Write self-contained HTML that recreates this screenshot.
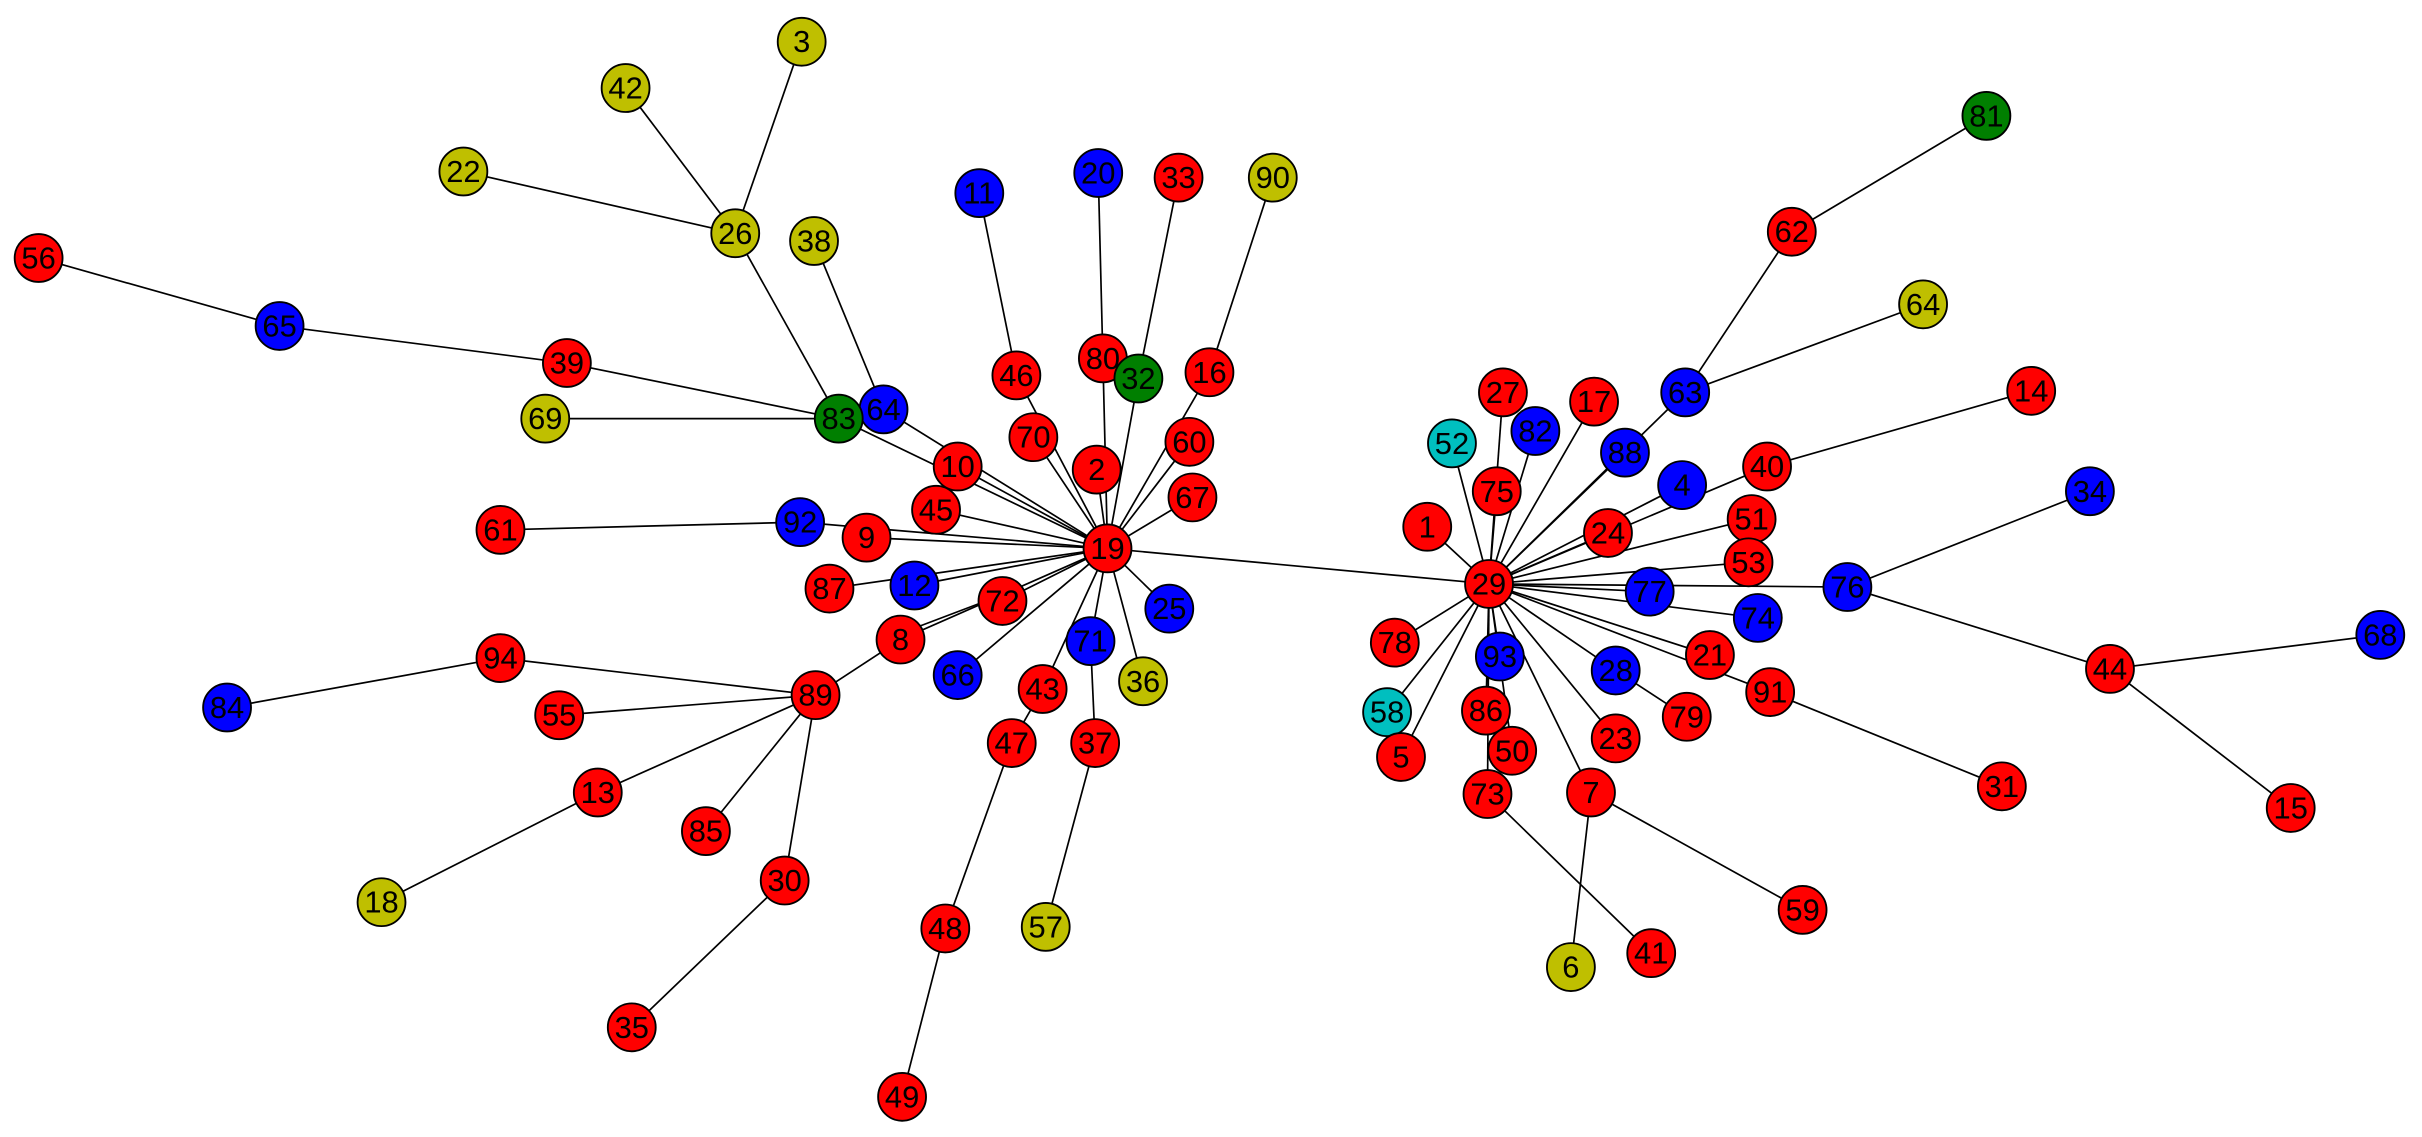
<!DOCTYPE html>
<html><head><meta charset="utf-8"><style>
html,body{margin:0;padding:0;background:#fff;}
svg{display:block;}
text{font-family:"Liberation Sans","DejaVu Sans",sans-serif;font-size:20px;text-anchor:middle;dominant-baseline:central;fill:#000;}
circle{stroke:#000;stroke-width:1.2;}
.r{fill:#f00}.b{fill:#00f}.y{fill:#bfbf00}.g{fill:#007f00}.c{fill:#00bfbf}
line{stroke:#000;stroke-width:1.1;}
</style></head><body>
<svg width="2422" height="1137" viewBox="0 0 1568 736" preserveAspectRatio="none">
<g>
<line x1="519" y1="27" x2="476" y2="151"/>
<line x1="405" y1="57" x2="476" y2="151"/>
<line x1="300" y1="111" x2="476" y2="151"/>
<line x1="476" y1="151" x2="543" y2="271"/>
<line x1="527" y1="156" x2="572" y2="265"/>
<line x1="25" y1="167" x2="181" y2="211"/>
<line x1="181" y1="211" x2="367" y2="235"/>
<line x1="367" y1="235" x2="543" y2="271"/>
<line x1="353" y1="271" x2="543" y2="271"/>
<line x1="543" y1="271" x2="717" y2="355"/>
<line x1="572" y1="265" x2="717" y2="355"/>
<line x1="634" y1="125" x2="658" y2="243"/>
<line x1="658" y1="243" x2="717" y2="355"/>
<line x1="711" y1="112" x2="714" y2="232"/>
<line x1="714" y1="232" x2="717" y2="355"/>
<line x1="763" y1="115" x2="737" y2="245"/>
<line x1="737" y1="245" x2="717" y2="355"/>
<line x1="824" y1="115" x2="783" y2="241"/>
<line x1="783" y1="241" x2="717" y2="355"/>
<line x1="669" y1="283" x2="717" y2="355"/>
<line x1="710" y1="304" x2="717" y2="355"/>
<line x1="770" y1="286" x2="717" y2="355"/>
<line x1="620" y1="302" x2="717" y2="355"/>
<line x1="606" y1="330" x2="717" y2="355"/>
<line x1="772" y1="322" x2="717" y2="355"/>
<line x1="324" y1="343" x2="518" y2="338"/>
<line x1="518" y1="338" x2="717" y2="355"/>
<line x1="561" y1="348" x2="717" y2="355"/>
<line x1="537" y1="381" x2="717" y2="355"/>
<line x1="592" y1="379" x2="717" y2="355"/>
<line x1="649" y1="389" x2="717" y2="355"/>
<line x1="583" y1="414" x2="717" y2="355"/>
<line x1="583" y1="410" x2="649" y2="385"/>
<line x1="757" y1="394" x2="717" y2="355"/>
<line x1="706" y1="415" x2="717" y2="355"/>
<line x1="620" y1="437" x2="717" y2="355"/>
<line x1="740" y1="441" x2="717" y2="355"/>
<line x1="675" y1="446" x2="717" y2="355"/>
<line x1="655" y1="481" x2="675" y2="446"/>
<line x1="709" y1="481" x2="706" y2="415"/>
<line x1="612" y1="601" x2="655" y2="481"/>
<line x1="584" y1="710" x2="612" y2="601"/>
<line x1="677" y1="600" x2="709" y2="481"/>
<line x1="324" y1="426" x2="528" y2="450"/>
<line x1="147" y1="458" x2="324" y2="426"/>
<line x1="362" y1="463" x2="528" y2="450"/>
<line x1="387" y1="513" x2="528" y2="450"/>
<line x1="247" y1="584" x2="387" y2="513"/>
<line x1="457" y1="538" x2="528" y2="450"/>
<line x1="508" y1="570" x2="528" y2="450"/>
<line x1="409" y1="665" x2="508" y2="570"/>
<line x1="528" y1="450" x2="583" y2="414"/>
<line x1="717" y1="355" x2="964" y2="378"/>
<line x1="924" y1="341" x2="964" y2="378"/>
<line x1="940" y1="287" x2="964" y2="378"/>
<line x1="969" y1="318" x2="964" y2="378"/>
<line x1="973" y1="254" x2="964" y2="378"/>
<line x1="994" y1="279" x2="964" y2="378"/>
<line x1="1032" y1="260" x2="964" y2="378"/>
<line x1="1091" y1="254" x2="964" y2="378"/>
<line x1="1052" y1="293" x2="964" y2="378"/>
<line x1="1089" y1="314" x2="964" y2="378"/>
<line x1="1041" y1="345" x2="964" y2="378"/>
<line x1="1144" y1="302" x2="964" y2="378"/>
<line x1="1134" y1="336" x2="964" y2="378"/>
<line x1="1132" y1="364" x2="964" y2="378"/>
<line x1="1196" y1="380" x2="964" y2="378"/>
<line x1="1138" y1="400" x2="964" y2="378"/>
<line x1="1068" y1="383" x2="964" y2="378"/>
<line x1="903" y1="416" x2="964" y2="378"/>
<line x1="971" y1="425" x2="964" y2="378"/>
<line x1="1046" y1="434" x2="964" y2="378"/>
<line x1="1107" y1="424" x2="964" y2="378"/>
<line x1="1146" y1="448" x2="964" y2="378"/>
<line x1="898" y1="461" x2="964" y2="378"/>
<line x1="907" y1="490" x2="964" y2="378"/>
<line x1="962" y1="460" x2="964" y2="378"/>
<line x1="979" y1="486" x2="964" y2="378"/>
<line x1="963" y1="514" x2="964" y2="378"/>
<line x1="1046" y1="478" x2="964" y2="378"/>
<line x1="1030" y1="513" x2="964" y2="378"/>
<line x1="1046" y1="434" x2="1092" y2="464"/>
<line x1="1286" y1="75" x2="1160" y2="150"/>
<line x1="1160" y1="150" x2="1091" y2="254"/>
<line x1="1245" y1="197" x2="1091" y2="254"/>
<line x1="1315" y1="253" x2="1144" y2="302"/>
<line x1="1353" y1="318" x2="1196" y2="380"/>
<line x1="1196" y1="380" x2="1366" y2="433"/>
<line x1="1366" y1="433" x2="1541" y2="411"/>
<line x1="1366" y1="433" x2="1483" y2="523"/>
<line x1="1146" y1="448" x2="1296" y2="509"/>
<line x1="1030" y1="513" x2="1167" y2="589"/>
<line x1="1030" y1="513" x2="1017" y2="626"/>
<line x1="963" y1="514" x2="1069" y2="617"/>
</g>
<g>
<circle class="y" cx="519" cy="27" r="15.5"/><text x="519" y="27">3</text>
<circle class="y" cx="405" cy="57" r="15.5"/><text x="405" y="57">42</text>
<circle class="y" cx="300" cy="111" r="15.5"/><text x="300" y="111">22</text>
<circle class="y" cx="476" cy="151" r="15.5"/><text x="476" y="151">26</text>
<circle class="y" cx="527" cy="156" r="15.5"/><text x="527" y="156">38</text>
<circle class="r" cx="25" cy="167" r="15.5"/><text x="25" y="167">56</text>
<circle class="b" cx="181" cy="211" r="15.5"/><text x="181" y="211">65</text>
<circle class="r" cx="367" cy="235" r="15.5"/><text x="367" y="235">39</text>
<circle class="y" cx="353" cy="271" r="15.5"/><text x="353" y="271">69</text>
<circle class="b" cx="572" cy="265" r="15.5"/><text x="572" y="265">64</text>
<circle class="g" cx="543" cy="271" r="15.5"/><text x="543" y="271">83</text>
<circle class="b" cx="634" cy="125" r="15.5"/><text x="634" y="125">11</text>
<circle class="b" cx="711" cy="112" r="15.5"/><text x="711" y="112">20</text>
<circle class="r" cx="763" cy="115" r="15.5"/><text x="763" y="115">33</text>
<circle class="y" cx="824" cy="115" r="15.5"/><text x="824" y="115">90</text>
<circle class="r" cx="658" cy="243" r="15.5"/><text x="658" y="243">46</text>
<circle class="r" cx="714" cy="232" r="15.5"/><text x="714" y="232">80</text>
<circle class="g" cx="737" cy="245" r="15.5"/><text x="737" y="245">32</text>
<circle class="r" cx="783" cy="241" r="15.5"/><text x="783" y="241">16</text>
<circle class="r" cx="669" cy="283" r="15.5"/><text x="669" y="283">70</text>
<circle class="r" cx="770" cy="286" r="15.5"/><text x="770" y="286">60</text>
<circle class="r" cx="710" cy="304" r="15.5"/><text x="710" y="304">2</text>
<circle class="r" cx="620" cy="302" r="15.5"/><text x="620" y="302">10</text>
<circle class="r" cx="606" cy="330" r="15.5"/><text x="606" y="330">45</text>
<circle class="r" cx="772" cy="322" r="15.5"/><text x="772" y="322">67</text>
<circle class="r" cx="324" cy="343" r="15.5"/><text x="324" y="343">61</text>
<circle class="b" cx="518" cy="338" r="15.5"/><text x="518" y="338">92</text>
<circle class="r" cx="561" cy="348" r="15.5"/><text x="561" y="348">9</text>
<circle class="r" cx="717" cy="355" r="15.5"/><text x="717" y="355">19</text>
<circle class="r" cx="537" cy="381" r="15.5"/><text x="537" y="381">87</text>
<circle class="b" cx="592" cy="379" r="15.5"/><text x="592" y="379">12</text>
<circle class="r" cx="649" cy="389" r="15.5"/><text x="649" y="389">72</text>
<circle class="b" cx="757" cy="394" r="15.5"/><text x="757" y="394">25</text>
<circle class="r" cx="583" cy="414" r="15.5"/><text x="583" y="414">8</text>
<circle class="b" cx="706" cy="415" r="15.5"/><text x="706" y="415">71</text>
<circle class="b" cx="620" cy="437" r="15.5"/><text x="620" y="437">66</text>
<circle class="y" cx="740" cy="441" r="15.5"/><text x="740" y="441">36</text>
<circle class="r" cx="675" cy="446" r="15.5"/><text x="675" y="446">43</text>
<circle class="r" cx="655" cy="481" r="15.5"/><text x="655" y="481">47</text>
<circle class="r" cx="709" cy="481" r="15.5"/><text x="709" y="481">37</text>
<circle class="r" cx="324" cy="426" r="15.5"/><text x="324" y="426">94</text>
<circle class="b" cx="147" cy="458" r="15.5"/><text x="147" y="458">84</text>
<circle class="r" cx="362" cy="463" r="15.5"/><text x="362" y="463">55</text>
<circle class="r" cx="528" cy="450" r="15.5"/><text x="528" y="450">89</text>
<circle class="r" cx="387" cy="513" r="15.5"/><text x="387" y="513">13</text>
<circle class="r" cx="457" cy="538" r="15.5"/><text x="457" y="538">85</text>
<circle class="r" cx="508" cy="570" r="15.5"/><text x="508" y="570">30</text>
<circle class="y" cx="247" cy="584" r="15.5"/><text x="247" y="584">18</text>
<circle class="r" cx="409" cy="665" r="15.5"/><text x="409" y="665">35</text>
<circle class="r" cx="612" cy="601" r="15.5"/><text x="612" y="601">48</text>
<circle class="y" cx="677" cy="600" r="15.5"/><text x="677" y="600">57</text>
<circle class="r" cx="584" cy="710" r="15.5"/><text x="584" y="710">49</text>
<circle class="g" cx="1286" cy="75" r="15.5"/><text x="1286" y="75">81</text>
<circle class="r" cx="1160" cy="150" r="15.5"/><text x="1160" y="150">62</text>
<circle class="y" cx="1245" cy="197" r="15.5"/><text x="1245" y="197">64</text>
<circle class="r" cx="973" cy="254" r="15.5"/><text x="973" y="254">27</text>
<circle class="r" cx="1032" cy="260" r="15.5"/><text x="1032" y="260">17</text>
<circle class="b" cx="1091" cy="254" r="15.5"/><text x="1091" y="254">63</text>
<circle class="r" cx="1315" cy="253" r="15.5"/><text x="1315" y="253">14</text>
<circle class="c" cx="940" cy="287" r="15.5"/><text x="940" y="287">52</text>
<circle class="b" cx="994" cy="279" r="15.5"/><text x="994" y="279">82</text>
<circle class="b" cx="1052" cy="293" r="15.5"/><text x="1052" y="293">88</text>
<circle class="b" cx="1089" cy="314" r="15.5"/><text x="1089" y="314">4</text>
<circle class="r" cx="1144" cy="302" r="15.5"/><text x="1144" y="302">40</text>
<circle class="r" cx="969" cy="318" r="15.5"/><text x="969" y="318">75</text>
<circle class="r" cx="924" cy="341" r="15.5"/><text x="924" y="341">1</text>
<circle class="r" cx="1041" cy="345" r="15.5"/><text x="1041" y="345">24</text>
<circle class="r" cx="1134" cy="336" r="15.5"/><text x="1134" y="336">51</text>
<circle class="r" cx="1132" cy="364" r="15.5"/><text x="1132" y="364">53</text>
<circle class="b" cx="1353" cy="318" r="15.5"/><text x="1353" y="318">34</text>
<circle class="r" cx="964" cy="378" r="15.5"/><text x="964" y="378">29</text>
<circle class="b" cx="1068" cy="383" r="15.5"/><text x="1068" y="383">77</text>
<circle class="b" cx="1196" cy="380" r="15.5"/><text x="1196" y="380">76</text>
<circle class="b" cx="1138" cy="400" r="15.5"/><text x="1138" y="400">74</text>
<circle class="r" cx="903" cy="416" r="15.5"/><text x="903" y="416">78</text>
<circle class="b" cx="971" cy="425" r="15.5"/><text x="971" y="425">93</text>
<circle class="b" cx="1046" cy="434" r="15.5"/><text x="1046" y="434">28</text>
<circle class="r" cx="1107" cy="424" r="15.5"/><text x="1107" y="424">21</text>
<circle class="r" cx="1146" cy="448" r="15.5"/><text x="1146" y="448">91</text>
<circle class="b" cx="1541" cy="411" r="15.5"/><text x="1541" y="411">68</text>
<circle class="r" cx="1366" cy="433" r="15.5"/><text x="1366" y="433">44</text>
<circle class="c" cx="898" cy="461" r="15.5"/><text x="898" y="461">58</text>
<circle class="r" cx="962" cy="460" r="15.5"/><text x="962" y="460">86</text>
<circle class="r" cx="907" cy="490" r="15.5"/><text x="907" y="490">5</text>
<circle class="r" cx="979" cy="486" r="15.5"/><text x="979" y="486">50</text>
<circle class="r" cx="1046" cy="478" r="15.5"/><text x="1046" y="478">23</text>
<circle class="r" cx="1092" cy="464" r="15.5"/><text x="1092" y="464">79</text>
<circle class="r" cx="963" cy="514" r="15.5"/><text x="963" y="514">73</text>
<circle class="r" cx="1030" cy="513" r="15.5"/><text x="1030" y="513">7</text>
<circle class="r" cx="1296" cy="509" r="15.5"/><text x="1296" y="509">31</text>
<circle class="r" cx="1483" cy="523" r="15.5"/><text x="1483" y="523">15</text>
<circle class="r" cx="1167" cy="589" r="15.5"/><text x="1167" y="589">59</text>
<circle class="y" cx="1017" cy="626" r="15.5"/><text x="1017" y="626">6</text>
<circle class="r" cx="1069" cy="617" r="15.5"/><text x="1069" y="617">41</text>
</g>
</svg>
</body></html>
